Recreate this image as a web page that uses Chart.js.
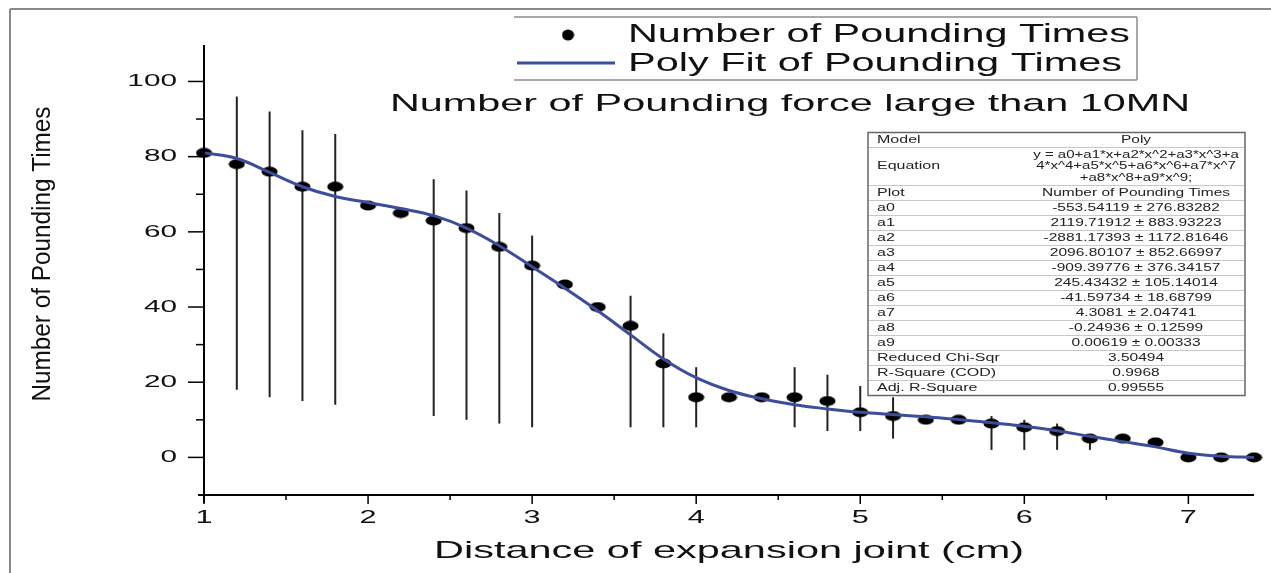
<!DOCTYPE html>
<html>
<head>
<meta charset="utf-8">
<script src="https://cdn.jsdelivr.net/npm/chart.js@4.4.1/dist/chart.umd.min.js"></script>
<style>
body { margin: 0; background: #fff; }
#wrap { width: 1271px; height: 573px; position: relative; }
</style>
</head>
<body>
<div id="wrap"><canvas id="myChart"></canvas></div>
<script>
// measured points (distance in cm, number of pounding times)
const distances = [1.0, 1.2, 1.4, 1.6, 1.8, 2.0, 2.2, 2.4, 2.6, 2.8, 3.0, 3.2, 3.4, 3.6, 3.8, 4.0, 4.2,
                   4.4, 4.6, 4.8, 5.0, 5.2, 5.4, 5.6, 5.8, 6.0, 6.2, 6.4, 6.6, 6.8, 7.0, 7.2, 7.4];
const poundTimes = [81, 78, 76, 72, 72, 67, 65, 63, 61, 56, 51, 46, 40, 35, 25, 16, 16,
                    16, 16, 15, 12, 11, 10, 10, 9, 8, 7, 5, 5, 4, 0, 0, 0];
// error bar ends (null = no bar)
const errTop =    [null, 96, 92, 87, 86, null, null, 74, 71, 65, 59, null, null, 43, 33, 24, null,
                   null, 24, 22, 19, 16, null, null, 11, 10, 9, 6, null, null, null, null, null];
const errBottom = [null, 18, 16, 15, 14, null, null, 11, 10, 9, 8, null, null, 8, 8, 8, null,
                   null, 8, 7, 7, 5, null, null, 2, 2, 2, 2, null, null, null, null, null];
// poly fit curve
const fitX = [1.0, 1.2, 1.4, 1.6, 1.8, 2.0, 2.2, 2.4, 2.6, 2.8, 3.0, 3.2, 3.4, 3.6, 3.8, 4.0, 4.2,
              4.4, 4.6, 4.8, 5.0, 5.2, 5.4, 5.6, 5.8, 6.0, 6.2, 6.4, 6.6, 6.8, 7.0, 7.2, 7.4];
const fitY = [81, 79.5, 75.8, 72, 69.4, 67.8, 66.2, 64.3, 61, 56.3, 50.7, 45, 39, 32.6, 26.2, 21.2, 17.8,
              15.6, 14, 12.9, 12, 11.4, 10.8, 10.1, 9.2, 8.3, 7.1, 5.6, 4.2, 2.8, 1.1, 0.3, 0];

const yTickLabels = [0, 20, 40, 60, 80, 100];
const yMinorTicks = [10, 30, 50, 70, 90];
const xTickLabels = [1, 2, 3, 4, 5, 6, 7];
const xMinorTicks = [1.5, 2.5, 3.5, 4.5, 5.5, 6.5];

const chartTitle = 'Number of Pounding force large than 10MN';
const xTitle = 'Distance of expansion joint (cm)';
const yTitle = 'Number of Pounding Times';
const legendNames = ['Number of Pounding Times', 'Poly Fit of Pounding Times'];

const tableLabels = ['Model', 'Equation', 'Plot', 'a0', 'a1', 'a2', 'a3', 'a4', 'a5', 'a6', 'a7', 'a8', 'a9',
                     'Reduced Chi-Sqr', 'R-Square (COD)', 'Adj. R-Square'];
const tableValues = ['Poly',
                     ['y = a0+a1*x+a2*x^2+a3*x^3+a', '4*x^4+a5*x^5+a6*x^6+a7*x^7', '+a8*x^8+a9*x^9;'],
                     'Number of Pounding Times',
                     '-553.54119 \u00b1 276.83282', '2119.71912 \u00b1 883.93223', '-2881.17393 \u00b1 1172.81646',
                     '2096.80107 \u00b1 852.66997', '-909.39776 \u00b1 376.34157', '245.43432 \u00b1 105.14014',
                     '-41.59734 \u00b1 18.68799', '4.3081 \u00b1 2.04741', '-0.24936 \u00b1 0.12599',
                     '0.00619 \u00b1 0.00333', '3.50494', '0.9968', '0.99555'];

const fitColor = '#3b4d9b';
const FONT = '"Liberation Sans", Arial, sans-serif';

function ellipseDot(w, h) {
    const c = document.createElement('canvas');
    c.width = w; c.height = h;
    const g = c.getContext('2d');
    g.fillStyle = '#000';
    g.beginPath();
    g.ellipse(w / 2, h / 2, w / 2 - 0.5, h / 2 - 0.5, 0, 0, Math.PI * 2);
    g.fill();
    return c;
}
const dot = ellipseDot(17, 11);
const legendDot = ellipseDot(13, 12);

// the original picture is stretched sideways, so text is drawn with a horizontal scale
function stretchText(ctx, text, x, y, size, opts) {
    opts = opts || {};
    ctx.save();
    ctx.font = size + 'px ' + FONT;
    const w = ctx.measureText(text).width;
    const sx = opts.width ? opts.width / w : (opts.sx || 1);
    ctx.translate(x, y);
    if (opts.rotate) ctx.rotate(opts.rotate);
    ctx.scale(sx, 1);
    ctx.textAlign = opts.align || 'left';
    ctx.textBaseline = 'middle';
    ctx.fillStyle = opts.color || '#111';
    ctx.fillText(text, 0, 0);
    ctx.restore();
}

function line(ctx, x1, y1, x2, y2, color, width) {
    ctx.strokeStyle = color;
    ctx.lineWidth = width;
    ctx.beginPath();
    ctx.moveTo(x1, y1);
    ctx.lineTo(x2, y2);
    ctx.stroke();
}

const errorBars = {
    id: 'errorBars',
    beforeDatasetsDraw(chart) {
        const ctx = chart.ctx;
        const xs = chart.scales.x, ys = chart.scales.y;
        ctx.save();
        for (let i = 0; i < distances.length; i++) {
            if (errTop[i] === null) continue;
            const px = xs.getPixelForValue(distances[i]);
            line(ctx, px, ys.getPixelForValue(errTop[i]), px, ys.getPixelForValue(errBottom[i]), '#222', 2);
        }
        ctx.restore();
    }
};

const decorations = {
    id: 'decorations',
    afterDraw(chart) {
        const ctx = chart.ctx;
        const xs = chart.scales.x, ys = chart.scales.y;
        const a = chart.chartArea;
        ctx.save();

        // outer frame of the figure
        line(ctx, 10, 9, 1271, 9, '#8a8a8a', 2);
        line(ctx, 10, 9, 10, 573, '#8a8a8a', 2);

        // axes
        line(ctx, a.left, a.top, a.left, a.bottom + 8, '#000', 2);
        line(ctx, a.left - 6, a.bottom, a.right, a.bottom, '#000', 2);

        yTickLabels.forEach(v => {
            const py = ys.getPixelForValue(v);
            line(ctx, a.left - 16, py, a.left, py, '#000', 1.5);
            stretchText(ctx, String(v), a.left - 27, py, 17, {align: 'right', sx: 1.75});
        });
        yMinorTicks.forEach(v => {
            const py = ys.getPixelForValue(v);
            line(ctx, a.left - 8, py, a.left, py, '#000', 1.5);
        });
        xTickLabels.forEach(v => {
            const px = xs.getPixelForValue(v);
            line(ctx, px, a.bottom, px, a.bottom + 9, '#000', 1.5);
            stretchText(ctx, String(v), px, a.bottom + 23, 18, {align: 'center', sx: 1.7});
        });
        xMinorTicks.forEach(v => {
            const px = xs.getPixelForValue(v);
            line(ctx, px, a.bottom, px, a.bottom + 5, '#000', 1.5);
        });

        // titles
        stretchText(ctx, xTitle, (a.left + a.right) / 2, 551, 24, {align: 'center', width: 590});
        stretchText(ctx, yTitle, 43, 254, 25, {align: 'center', width: 295, rotate: -Math.PI / 2});
        stretchText(ctx, chartTitle, 390, 104, 24, {width: 800});

        // legend
        line(ctx, 514, 17, 1137, 17, '#8c8c8c', 1.5);
        line(ctx, 1137, 17, 1137, 80, '#8c8c8c', 1.5);
        line(ctx, 514, 80, 1137, 80, '#8c8c8c', 1.5);
        ctx.drawImage(legendDot, 568 - legendDot.width / 2, 35 - legendDot.height / 2);
        stretchText(ctx, legendNames[0], 628, 35, 25, {width: 502});
        line(ctx, 517, 63, 615, 63, fitColor, 3);
        stretchText(ctx, legendNames[1], 628, 64, 25, {width: 494});

        // fit result table
        const tl = 868, tr = 1245, tt = 132.5;
        const heights = tableLabels.map((_, i) => i === 1 ? 38 : 15);
        const tb = tt + heights.reduce((s, h) => s + h, 0);
        ctx.fillStyle = '#fff';
        ctx.fillRect(tl, tt, tr - tl, tb - tt);
        let y = tt;
        tableLabels.forEach((lab, i) => {
            const cy = y + heights[i] / 2;
            stretchText(ctx, lab, tl + 9, cy, 10, {sx: 1.6, color: '#222'});
            const val = tableValues[i];
            if (Array.isArray(val)) {
                val.forEach((s, k) => stretchText(ctx, s, 1136, cy + (k - 1) * 11.5, 10, {align: 'center', sx: 1.5, color: '#222'}));
            } else {
                stretchText(ctx, val, 1136, cy, 10, {align: 'center', sx: 1.55, color: '#222'});
            }
            y += heights[i];
            if (i < tableLabels.length - 1) line(ctx, tl, y, tr, y, '#c8c8c8', 1);
        });
        ctx.strokeStyle = '#666';
        ctx.lineWidth = 1.5;
        ctx.strokeRect(tl, tt, tr - tl, tb - tt);

        ctx.restore();
    }
};

const ctx = document.getElementById('myChart').getContext('2d');
const myChart = new Chart(ctx, {
    type: 'scatter',
    data: {
        datasets: [{
            label: legendNames[1],
            type: 'line',
            data: fitX.map((x, i) => ({x: x, y: fitY[i]})),
            borderColor: fitColor,
            borderWidth: 3,
            pointRadius: 0,
            tension: 0.4,
            fill: false,
            clip: false,
            order: 0
        }, {
            label: legendNames[0],
            data: distances.map((x, i) => ({x: x, y: poundTimes[i]})),
            pointStyle: dot,
            pointRadius: 6,
            backgroundColor: '#000',
            borderColor: '#000',
            clip: false,
            order: 1
        }]
    },
    options: {
        responsive: true,
        maintainAspectRatio: false,
        animation: false,
        layout: {padding: {left: 0, top: 45, right: 17, bottom: 0}},
        plugins: {
            legend: {display: false},
            title: {display: false},
            tooltip: {enabled: false}
        },
        scales: {
            x: {
                type: 'linear',
                min: 1,
                max: 7.4,
                grid: {display: false},
                border: {display: false},
                ticks: {display: false},
                afterFit: s => { s.height = 78; }
            },
            y: {
                min: -10,
                max: 109.7,
                grid: {display: false},
                border: {display: false},
                ticks: {display: false},
                afterFit: s => { s.width = 204; }
            }
        }
    },
    plugins: [errorBars, decorations]
});
</script>
</body>
</html>
